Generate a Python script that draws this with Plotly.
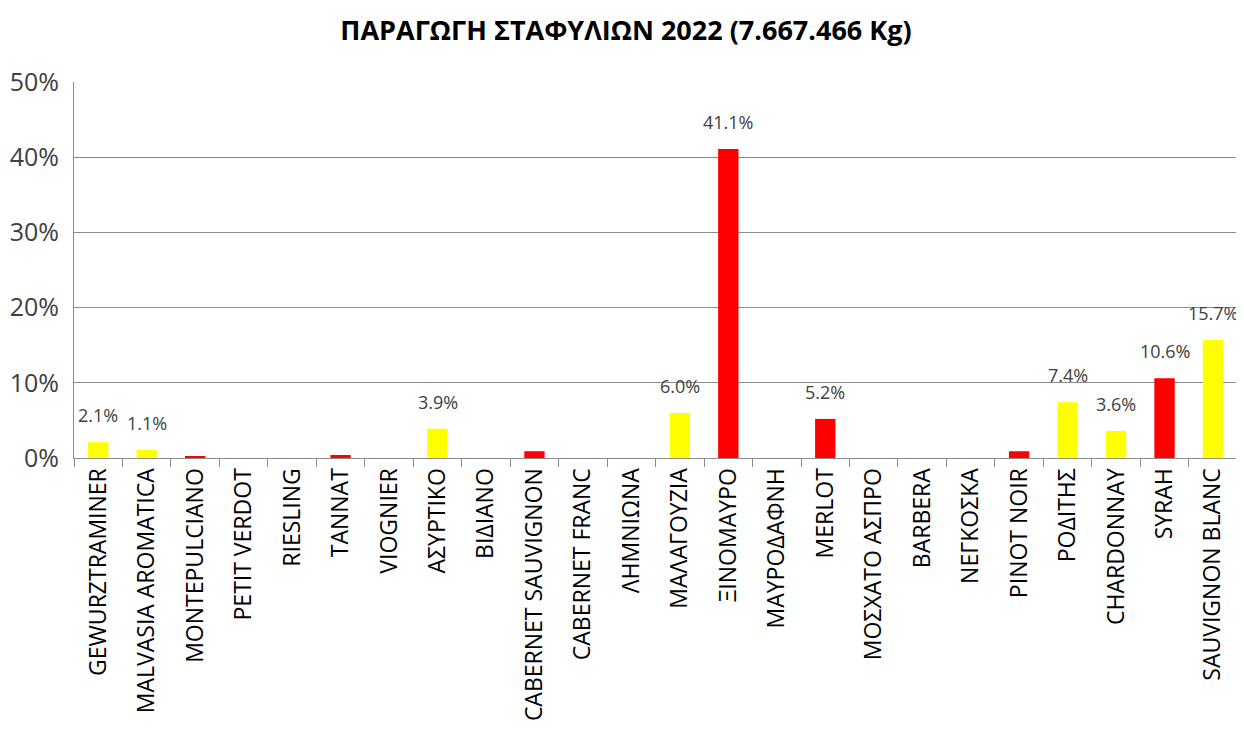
import plotly.graph_objects as go

varieties = ["GEWURZTRAMINER", "MALVASIA AROMATICA", "MONTEPULCIANO", "PETIT VERDOT",
             "RIESLING", "TANNAT", "VIOGNIER", "ΑΣΥΡΤΙΚΟ", "ΒΙΔΙΑΝΟ", "CABERNET SAUVIGNON",
             "CABERNET FRANC", "ΛΗΜΝΙΩΝΑ", "ΜΑΛΑΓΟΥΖΙΑ", "ΞΙΝΟΜΑΥΡΟ", "ΜΑΥΡΟΔΑΦΝΗ", "MERLOT",
             "ΜΟΣΧΑΤΟ ΑΣΠΡΟ", "BARBERA", "ΝΕΓΚΟΣΚΑ", "PINOT NOIR", "ΡΟΔΙΤΗΣ", "CHARDONNAY",
             "SYRAH", "SAUVIGNON BLANC"]
shares = [2.1, 1.1, 0.2, 0.0, 0.0, 0.4, 0.0, 3.9, 0.0, 0.9, 0.0, 0.0, 6.0, 41.1, 0.0, 5.2,
          0.0, 0.0, 0.0, 0.9, 7.4, 3.6, 10.6, 15.7]
grape_type = ["white", "white", "red", "red", "white", "red", "white", "white", "white", "red",
              "red", "red", "white", "red", "red", "red", "white", "red", "red", "red", "white",
              "white", "red", "white"]
labelled = [True, True, False, False, False, False, False, True, False, False, False, False,
            True, True, False, True, False, False, False, False, True, True, True, True]
y_ticks = [0, 10, 20, 30, 40, 50]

color_map = {"white": "#FFFF00", "red": "#FF0000"}
colors = [color_map[t] for t in grape_type]

fig = go.Figure()
fig.add_trace(go.Bar(x=varieties, y=shares, marker=dict(color=colors, line=dict(width=0)),
                     hoverinfo="x+y"))

for v, s, show in zip(varieties, shares, labelled):
    if show:
        fig.add_annotation(x=v, y=s, text=f"{s:.1f}%", showarrow=False, yshift=27,
                           yanchor="middle", font=dict(size=18, color="#404040"))

fig.update_layout(
    width=1236, height=721,
    paper_bgcolor="white", plot_bgcolor="white",
    margin=dict(l=66, r=4, t=74, b=271),
    bargap=0.58,
    showlegend=False,
    font=dict(family="Open Sans, Liberation Sans, sans-serif", color="#000000"),
    title=dict(text="<b>ΠΑΡΑΓΩΓΗ ΣΤΑΦΥΛΙΩΝ 2022 (7.667.466 Kg)</b>", x=0.5, xanchor="center",
               y=0.969, yanchor="middle", font=dict(size=27, color="#000000")),
)
fig.update_yaxes(range=[0, 50], tickvals=y_ticks, ticktext=[f"{t}%" for t in y_ticks],
                 showgrid=True, gridcolor="#8C8C8C", gridwidth=1,
                 showline=True, linecolor="#8C8C8C", linewidth=1,
                 ticks="outside", ticklen=9, tickcolor="rgba(0,0,0,0)",
                 tickfont=dict(size=25, color="#404040"), zeroline=False, automargin=False)
fig.update_xaxes(tickangle=-90, tickson="boundaries", ticks="outside", ticklen=8,
                 tickcolor="#8C8C8C", showline=True, linecolor="#8C8C8C", linewidth=1,
                 tickfont=dict(size=23, color="#000000"), showgrid=False, automargin=False)

fig.write_html("out.html")
